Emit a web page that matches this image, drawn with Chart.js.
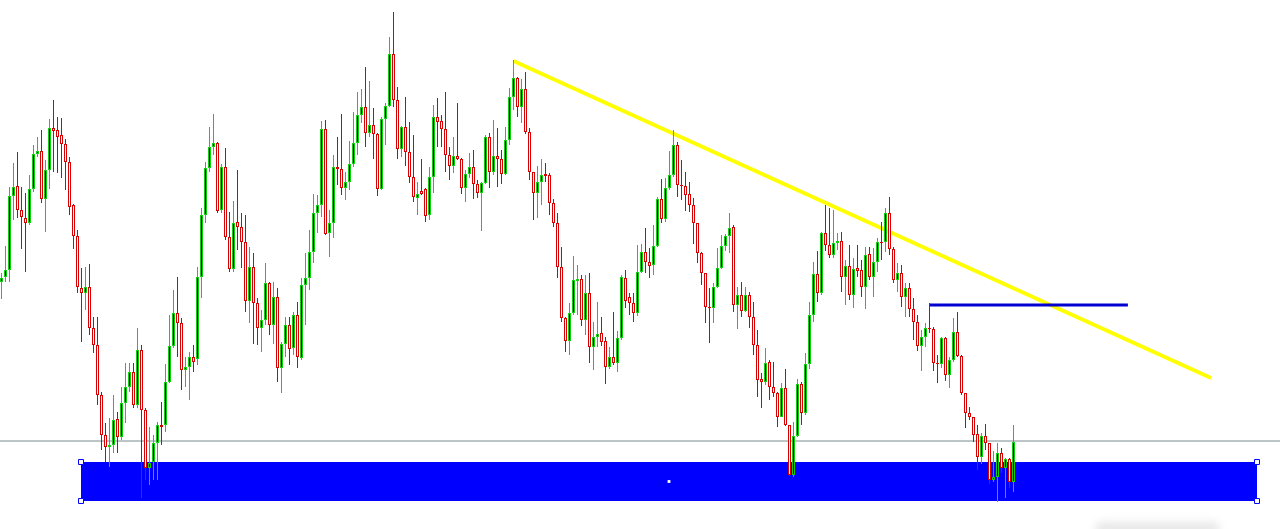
<!DOCTYPE html>
<html>
<head>
<meta charset="utf-8">
<title>Candles</title>
<script src="https://cdn.jsdelivr.net/npm/chart.js@4/dist/chart.umd.min.js"></script>
<style>
  html, body { margin: 0; padding: 0; background: #fff; overflow: hidden; }
  #wrap { position: relative; width: 1280px; height: 529px; }
  #shade { position: absolute; left: 1095px; top: 522px; width: 125px; height: 14px;
           background: rgba(190, 190, 190, 0.35); border-radius: 7px; filter: blur(4px); }
</style>
</head>
<body>
<div id="wrap">
  <canvas id="chart" width="1280" height="529"></canvas>
  <div id="shade"></div>
</div>
<script>
// price in points, one candle per bar
const opens = [
  318,323,330,404,414,390,382,377,411,446, 449,401,430,472,470,465,456,438,395,364,
  312,307,313,272,255,205,165,153,155,181, 163,197,213,228,195,250,190,132,138,157,
  175,175,218,254,287,277,230,233,243,241, 323,385,432,453,457,390,433,363,331,378,
  373,358,299,333,297,272,280,317,275,303, 232,256,275,252,285,242,315,322,348,387,
  395,471,367,377,433,431,412,418,436,457, 485,493,467,475,466,411,481,494,546,500,
  451,473,448,423,402,409,411,385,423,483, 479,471,445,434,444,441,412,426,433,416,
  407,417,463,428,444,441,426,460,503,522, 493,511,468,428,407,418,426,425,397,377,
  333,282,259,287,319,321,280,307,253,263, 267,259,233,243,237,262,322,303,297,287,
  328,348,338,335,354,401,381,412,425,455, 415,414,406,395,377,347,327,293,292,313,
  332,354,364,373,295,305,289,305,283,255, 221,218,238,213,207,183,212,175,125,164,
  216,187,236,285,326,307,367,355,345,357, 359,323,334,305,332,330,313,346,323,338,
  358,358,387,351,320,327,303,312,291,278, 254,263,272,271,237,236,262,225,240,268,
  244,207,187,183,166,143,164,157,120,123, 147,132,141,118
];
const highs = [
  327,354,413,437,448,413,407,425,455,463, 470,440,481,500,483,482,461,443,396,370,
  332,333,336,283,283,208,177,182,205,188, 213,237,237,237,272,255,192,173,165,178,
  198,236,285,310,323,282,243,248,255,333, 392,438,473,486,458,436,452,388,399,430,
  387,385,353,347,302,290,337,318,318,312, 258,283,283,288,298,322,347,370,406,405,
  479,480,390,445,463,486,428,459,488,508, 511,533,519,492,467,483,497,563,588,513,
  474,503,478,465,418,441,412,433,495,502, 485,508,453,463,497,442,430,447,450,420,
  418,465,467,480,472,450,473,512,540,523, 521,528,472,428,434,441,437,427,401,387,
  353,283,297,344,335,325,325,327,278,298, 283,263,253,288,269,325,330,307,307,355,
  356,372,352,375,403,421,422,449,470,458, 440,428,418,402,377,348,327,312,317,352,
  365,366,387,375,313,318,313,308,298,270, 227,252,240,238,208,217,231,175,178,221,
  218,247,298,338,349,368,395,392,390,367, 368,340,355,342,355,340,353,353,352,362,
  378,392,403,353,337,335,317,317,302,285, 270,277,297,273,245,263,263,243,282,288,
  245,207,193,183,175,167,176,157,149,157, 152,142,142,175
];
const lows = [
  301,318,318,380,382,351,328,375,408,443, 397,368,411,428,427,422,410,385,351,307,
  258,290,265,247,195,150,138,133,147,147, 160,177,208,192,192,102,120,115,120,120,
  155,168,217,252,243,210,213,200,228,235, 302,377,428,445,387,387,360,328,328,350,
  332,288,277,256,255,248,275,265,256,218, 207,243,235,245,232,240,275,310,337,367,
  383,365,343,362,415,405,400,410,433,445, 477,453,463,441,404,410,455,493,493,441,
  443,434,417,398,385,405,378,380,407,453, 453,428,420,427,440,406,398,422,401,402,
  369,416,412,425,413,416,425,455,490,483, 477,466,420,380,382,395,418,385,373,322,
  278,248,245,285,285,274,265,237,230,253, 254,216,231,235,228,260,292,285,278,284,
  327,327,322,325,353,377,378,410,423,403, 400,389,388,356,337,315,277,257,277,312,
  331,349,347,288,271,283,288,272,245,203, 192,215,200,203,173,183,174,124,123,163,
  175,185,231,278,298,305,349,342,342,350, 308,295,300,292,323,303,291,320,303,328,
  340,348,345,317,308,293,283,283,260,249, 229,253,267,229,217,232,219,212,238,243,
  205,172,180,158,130,136,150,116,118,98, 127,102,112,108
];
const closes = [
  322,330,404,413,390,383,377,411,446,449, 401,430,472,469,463,456,438,393,364,313,
  307,313,272,255,205,165,153,155,180,163, 197,213,228,195,250,190,132,137,157,175,
  173,218,254,287,277,230,233,243,238,323, 385,432,453,457,389,433,363,331,377,373,
  358,299,333,297,272,280,317,275,303,232, 256,275,251,285,243,315,322,348,387,395,
  471,366,377,433,431,412,418,436,457,485, 493,467,475,466,411,481,494,546,500,451,
  473,448,423,403,406,406,384,423,483,478, 471,445,434,444,441,412,426,433,416,407,
  417,463,428,444,441,426,460,503,522,493, 511,468,428,407,418,425,424,397,377,333,
  282,259,287,320,321,280,307,253,263,266, 258,233,243,237,262,323,299,297,287,328,
  348,338,334,354,401,381,412,425,455,415, 414,405,395,377,347,327,293,292,313,332,
  354,364,372,295,305,289,305,283,255,220, 218,237,213,207,183,212,175,125,164,216,
  187,236,285,326,307,367,355,345,357,359, 323,334,305,331,329,313,345,323,338,358,
  357,387,351,320,327,303,312,291,278,254, 263,272,271,237,236,262,225,240,268,244,
  207,187,183,165,143,164,157,120,123,147, 132,141,118,158
];

// drawn objects, in bar index / price units
const trendX = [128, 302.4];
const trendY = [539, 222];
const levelX = [232, 281.6];
const levelY = 295;
const baseLineY = 159;
const zoneX = [19.875, 313.875];
const zoneY = [99, 138];

const UP = '#12d012';
const DOWN = '#d80000';
const isUp = i => closes[i] >= opens[i];

const xMin = -0.375, xMax = 319.625;

const wicks = highs.map((h, i) => ({ x: i, y: [lows[i], h] }));
const bodies = opens.map((o, i) => ({ x: i, y: [o, closes[i]] }));

new Chart(document.getElementById('chart'), {
  type: 'bar',
  data: {
    datasets: [
      {
        type: 'line',
        data: [{ x: zoneX[0], y: zoneY[1] }, { x: zoneX[1], y: zoneY[1] }],
        borderWidth: 0,
        borderColor: '#0000ff',
        backgroundColor: '#0000ff',
        fill: { value: zoneY[0] },
        pointRadius: 0,
        order: 10
      },
      {
        type: 'line',
        data: [{ x: xMin, y: baseLineY }, { x: xMax, y: baseLineY }],
        borderColor: '#7d8a8c',
        borderWidth: 1,
        pointRadius: 0,
        order: 9
      },
      {
        type: 'line',
        data: [{ x: trendX[0], y: trendY[0] }, { x: trendX[1], y: trendY[1] }],
        borderColor: '#ffff00',
        borderWidth: 4,
        borderCapStyle: 'butt',
        pointRadius: 0,
        order: 8
      },
      {
        type: 'line',
        data: [{ x: levelX[0], y: levelY }, { x: levelX[1], y: levelY }],
        borderColor: '#0000d0',
        borderWidth: 3,
        pointRadius: 0,
        order: 7
      },
      {
        data: wicks,
        grouped: false,
        barThickness: 1,
        inflateAmount: 0,
        borderWidth: 0,
        backgroundColor: ctx => isUp(ctx.dataIndex) ? UP : DOWN,
        order: 2
      },
      {
        data: bodies,
        grouped: false,
        barThickness: 3,
        inflateAmount: 0,
        borderWidth: 1,
        borderSkipped: false,
        borderColor: ctx => isUp(ctx.dataIndex) ? UP : DOWN,
        backgroundColor: ctx => isUp(ctx.dataIndex) ? '#000000' : '#ffffff',
        order: 1
      },
      {
        type: 'scatter',
        data: [
          { x: zoneX[0], y: zoneY[1] }, { x: zoneX[0], y: zoneY[0] },
          { x: zoneX[1], y: zoneY[1] }, { x: zoneX[1], y: zoneY[0] }
        ],
        pointStyle: 'rect',
        pointRadius: 3.5,
        pointBorderWidth: 1,
        pointBorderColor: '#0000ff',
        pointBackgroundColor: '#ffffff',
        order: 0
      },
      {
        type: 'scatter',
        data: [{ x: (zoneX[0] + zoneX[1]) / 2, y: (zoneY[0] + zoneY[1]) / 2 }],
        pointStyle: 'rect',
        pointRadius: 2,
        pointBorderWidth: 0,
        pointBackgroundColor: '#ffffff',
        order: 0
      }
    ]
  },
  options: {
    responsive: false,
    animation: false,
    devicePixelRatio: 1,
    layout: { padding: 0, autoPadding: false },
    scales: {
      x: { type: 'linear', min: xMin, max: xMax, offset: false, display: false },
      y: { type: 'linear', min: 71, max: 600, display: false }
    },
    plugins: {
      legend: { display: false },
      tooltip: { enabled: false }
    }
  }
});
</script>
</body>
</html>
